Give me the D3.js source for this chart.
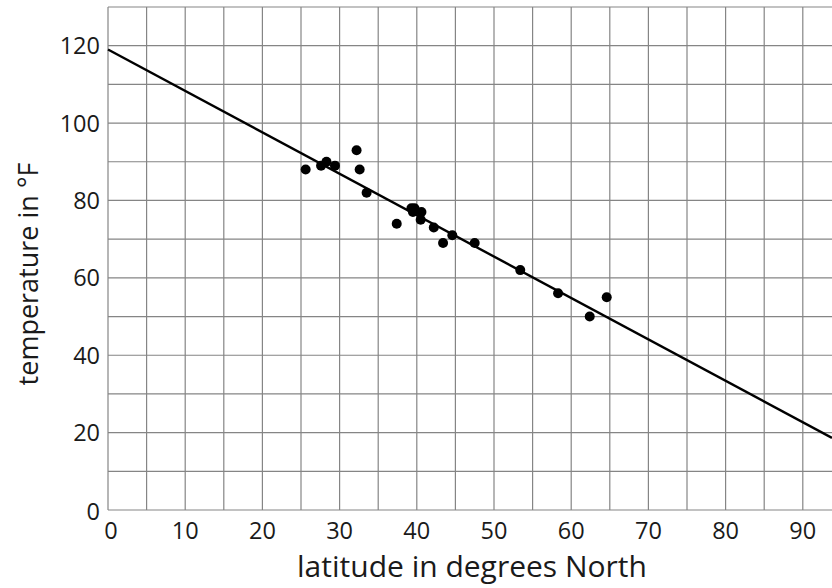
<!DOCTYPE html>
<html>
<head>
<meta charset="utf-8">
<script src="https://cdn.jsdelivr.net/npm/d3@7"></script>
<style>
  body { margin: 0; background: #fff; }
  text { font-family: "Open Sans", sans-serif; fill: #1a1a1a; }
</style>
</head>
<body>
<div id="chart"></div>
<script>
// latitude (degrees N) and temperature (deg F)
var latitudes = [25.6, 27.6, 28.3, 29.4, 32.2, 32.6, 33.5, 37.4, 39.3, 39.7, 39.5,
                 40.6, 40.5, 42.2, 43.4, 44.6, 47.5, 53.4, 58.3, 62.4, 64.6];
var temperatures = [88, 89, 90, 89, 93, 88, 82, 74, 78, 78, 77,
                    77, 75, 73, 69, 71, 69, 62, 56, 50, 55];
// fitted line: temp = fitIntercept + fitSlope * latitude
var fitIntercept = 119;
var fitSlope = -1.07;
var xTicks = [0, 10, 20, 30, 40, 50, 60, 70, 80, 90];
var yTicks = [0, 20, 40, 60, 80, 100, 120];

var width = 832;
var height = 588;
var plotLeft = 108, plotBottom = 510, plotTop = 7;

var svg = d3.select('#chart')
    .append('svg')
    .attr('width', width)
    .attr('height', height);

var x = d3.scaleLinear().domain([0, 10]).range([plotLeft, plotLeft + 77.2]);
var xMax = x.invert(width);
var y = d3.scaleLinear().domain([0, 130]).range([plotBottom, plotTop]);

// grid
var grid = svg.append('g');
grid.selectAll('.vline')
    .data(d3.range(0, xMax, 5))
    .enter().append('line')
    .attr('x1', function(d) { return x(d); })
    .attr('x2', function(d) { return x(d); })
    .attr('y1', y(0))
    .attr('y2', y(130))
    .style('stroke', '#858585')
    .style('stroke-width', '1.2px');
grid.selectAll('.hline')
    .data(d3.range(0, 131, 10))
    .enter().append('line')
    .attr('x1', x(0))
    .attr('x2', width)
    .attr('y1', function(d) { return y(d); })
    .attr('y2', function(d) { return y(d); })
    .style('stroke', '#858585')
    .style('stroke-width', '1.2px');

// tick labels
svg.selectAll('.xtick')
    .data(xTicks)
    .enter().append('text')
    .attr('x', function(d) { return x(d) + (d === 0 ? 3 : 0); })
    .attr('y', 539)
    .attr('text-anchor', 'middle')
    .style('font-size', '23.5px')
    .text(function(d) { return d; });

svg.selectAll('.ytick')
    .data(yTicks)
    .enter().append('text')
    .attr('x', 100)
    .attr('y', function(d) { return y(d) + (d === 0 ? 2 : 0); })
    .attr('dy', '0.36em')
    .attr('text-anchor', 'end')
    .style('font-size', '23.5px')
    .text(function(d) { return d; });

// fitted line
svg.append('line')
    .attr('x1', x(0))
    .attr('y1', y(fitIntercept))
    .attr('x2', x(xMax))
    .attr('y2', y(fitIntercept + fitSlope * xMax))
    .style('stroke', '#000')
    .style('stroke-width', '2.4px');

// points
svg.selectAll('.dot')
    .data(latitudes)
    .enter().append('circle')
    .attr('cx', function(d) { return x(d); })
    .attr('cy', function(d, i) { return y(temperatures[i]); })
    .attr('r', 5)
    .style('fill', '#000');

// axis titles
svg.append('text')
    .attr('x', 472)
    .attr('y', 577)
    .attr('text-anchor', 'middle')
    .style('font-size', '30px')
    .text('latitude in degrees North');

svg.append('text')
    .attr('transform', 'translate(38,274) rotate(-90)')
    .attr('text-anchor', 'middle')
    .style('font-size', '27px')
    .text('temperature in °F');
</script>
</body>
</html>
